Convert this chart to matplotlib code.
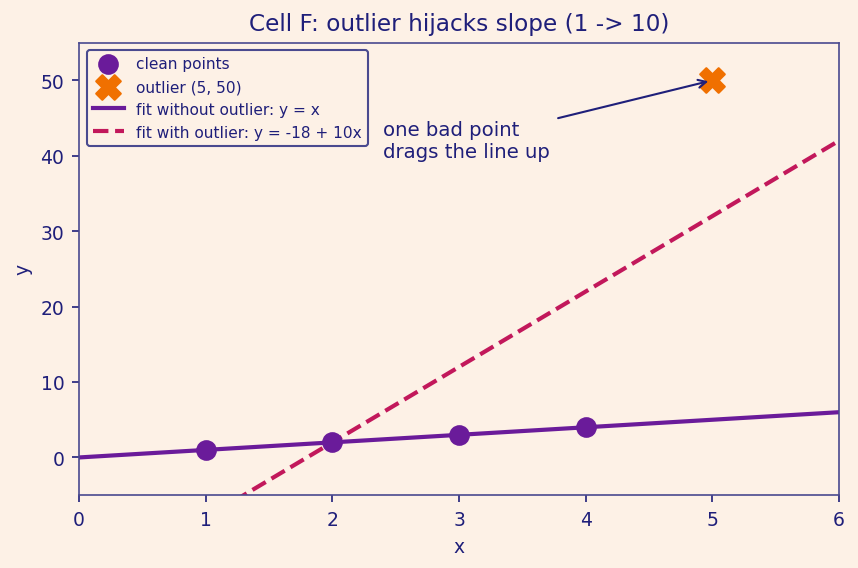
import numpy as np
import matplotlib
matplotlib.use('Agg')
import matplotlib.pyplot as plt

# Data
clean_x = [1, 2, 3, 4]
clean_y = [1, 2, 3, 4]
outlier_x = [5]
outlier_y = [50]
fit_x = [0, 6]
slope_clean, icpt_clean = 1, 0
slope_out, icpt_out = 10, -18

bg = '#fdf1e6'
ink = '#1f1f7a'

plt.rcParams['font.family'] = ['DejaVu Sans']
fig, ax = plt.subplots(figsize=(5.72, 3.793), dpi=150)
fig.patch.set_facecolor(bg)
ax.set_facecolor(bg)
fig.subplots_adjust(left=0.092, right=0.978, top=0.9235, bottom=0.128)

xs = np.array(fit_x)
ax.scatter(clean_x, clean_y, s=80, color='#6a1b9a', zorder=3, label='clean points')
ax.scatter(outlier_x, outlier_y, s=140, marker='X', color='#f07000', zorder=3,
           label='outlier (5, 50)')
ax.plot(xs, icpt_clean + slope_clean * xs, color='#6a1b9a', lw=2,
        label='fit without outlier: y = x')
ax.plot(xs, icpt_out + slope_out * xs, color='#c2185b', lw=2, ls='--',
        label='fit with outlier: y = -18 + 10x')

ax.annotate('one bad point\ndrags the line up', xy=(5, 50), xytext=(2.4, 42),
            color=ink, fontsize=9.5, va='center', ha='left',
            arrowprops=dict(arrowstyle='->', color=ink, lw=1))

ax.set_xlim(0, 6)
ax.set_ylim(-5, 55)
ax.set_title('Cell F: outlier hijacks slope (1 -> 10)', color=ink, fontsize=11.1)
ax.set_xlabel('x', color=ink, fontsize=9)
ax.set_ylabel('y', color=ink, fontsize=9)
ax.tick_params(colors=ink, labelsize=9)
for sp in ax.spines.values():
    sp.set_color('#4a4a8f')

leg = ax.legend(loc='upper left', fontsize=7.4, facecolor=bg, edgecolor='#4a4a8f',
                labelcolor=ink, framealpha=1)

fig.savefig('out.png', dpi=150, facecolor=bg)
